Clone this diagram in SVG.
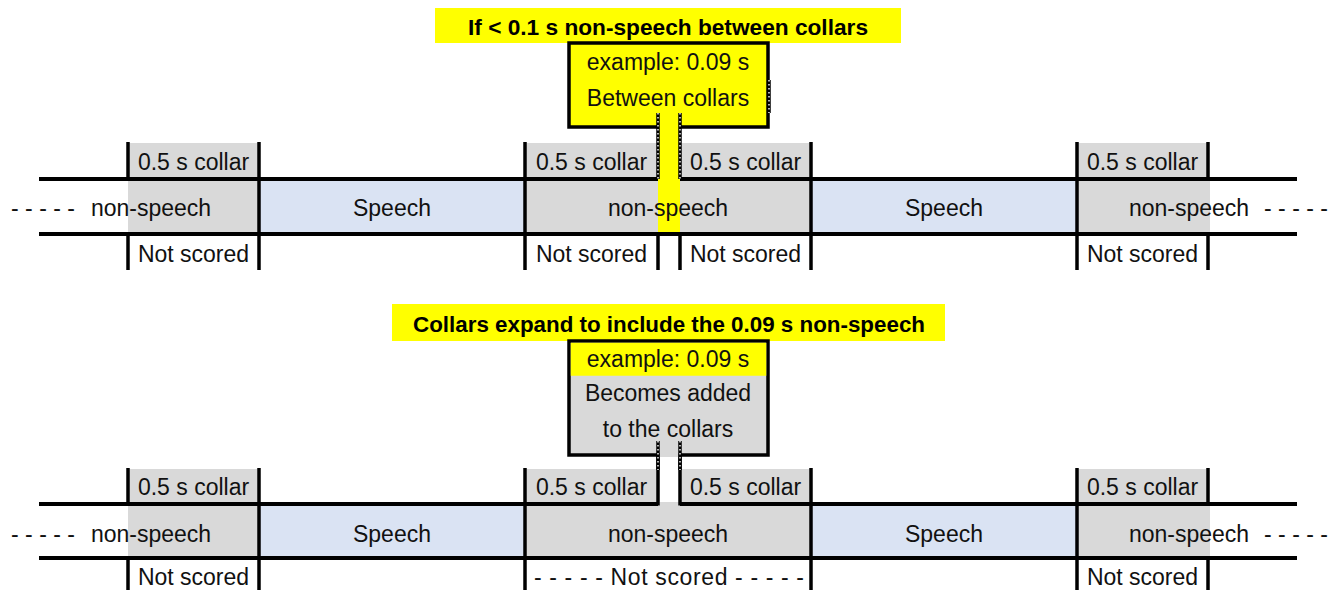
<svg xmlns="http://www.w3.org/2000/svg" width="1342" height="592" viewBox="0 0 1342 592">
<style>
.t{font-family:"Liberation Sans",Arial,sans-serif;font-size:23px;fill:#111;text-anchor:middle}
.tb{font-family:"Liberation Sans",Arial,sans-serif;font-size:22.5px;font-weight:bold;fill:#000;text-anchor:middle}
.g{fill:#d9d9d9}
.b{fill:#dae3f3}
.y{fill:#ffff00}
.ln{stroke:#000;stroke-width:3.5;fill:none}
.hl{stroke:#000;stroke-width:4;fill:none}
.hb{stroke:#000;stroke-width:3.5}
.hw{stroke:#fff;stroke-width:1.4;stroke-dasharray:1.5 2.5}
.box{stroke:#000;stroke-width:3.5}
</style>
<rect width="1342" height="592" fill="#fff"/>

<!-- ================= TOP DIAGRAM ================= -->
<g id="top-fills">
  <rect class="g" x="128" y="143" width="131" height="36"/>
  <rect class="g" x="525" y="143" width="133" height="36"/>
  <rect class="g" x="680" y="143" width="131" height="36"/>
  <rect class="g" x="1077" y="143" width="131" height="36"/>
  <rect class="g" x="128" y="179" width="131" height="55"/>
  <rect class="b" x="259" y="179" width="266" height="55"/>
  <rect class="g" x="525" y="179" width="286" height="55"/>
  <rect class="b" x="811" y="179" width="266" height="55"/>
  <rect class="g" x="1077" y="179" width="133" height="55"/>
</g>
<g id="top-track-lines">
  <line class="hl" x1="39" y1="179" x2="1297" y2="179"/>
  <line class="ln" x1="128" y1="142" x2="128" y2="179"/>
  <line class="ln" x1="128" y1="234" x2="128" y2="270"/>
  <line class="ln" x1="259" y1="142" x2="259" y2="270"/>
  <line class="ln" x1="525" y1="142" x2="525" y2="270"/>
  <line class="ln" x1="811" y1="142" x2="811" y2="270"/>
  <line class="ln" x1="1077" y1="142" x2="1077" y2="270"/>
  <line class="ln" x1="1208" y1="142" x2="1208" y2="179"/>
  <line class="ln" x1="1208" y1="234" x2="1208" y2="270"/>
  <line class="ln" x1="658" y1="234" x2="658" y2="270"/>
  <line class="ln" x1="680" y1="234" x2="680" y2="270"/>
</g>
<g id="top-title">
  <rect class="y" x="435" y="8" width="466" height="35"/>
  <text class="tb" x="668" y="35" textLength="400" lengthAdjust="spacingAndGlyphs">If &lt; 0.1 s non-speech between collars</text>
</g>
<g id="top-callout">
  <rect class="y box" x="569" y="43" width="199" height="84"/>
  <text class="t" x="668" y="70">example: 0.09 s</text>
  <text class="t" x="668" y="106">Between collars</text>
</g>
<g id="top-gap">
  <rect class="y" x="658" y="113" width="22" height="119"/>
</g>
<g id="connectors">
  <line class="hb" x1="658" y1="113" x2="658" y2="179"/>
  <line class="hw" x1="658" y1="113" x2="658" y2="179"/>
  <line class="hb" x1="680" y1="113" x2="680" y2="179"/>
  <line class="hw" x1="680" y1="113" x2="680" y2="179"/>
  <line class="hb" x1="769" y1="80" x2="769" y2="113"/>
  <line class="hw" x1="769" y1="80" x2="769" y2="113"/>
  <line class="hb" x1="658" y1="441" x2="658" y2="470"/>
  <line class="hw" x1="658" y1="441" x2="658" y2="470"/>
  <line class="hb" x1="680" y1="441" x2="680" y2="470"/>
  <line class="hw" x1="680" y1="441" x2="680" y2="470"/>
</g>
<line class="hl" x1="39" y1="234" x2="1297" y2="234"/>
<g id="top-labels">
  <text class="t" x="193.5" y="170">0.5 s collar</text>
  <text class="t" x="591.5" y="170">0.5 s collar</text>
  <text class="t" x="745.5" y="170">0.5 s collar</text>
  <text class="t" x="1142.5" y="170">0.5 s collar</text>
  <text class="t" y="216"><tspan x="43">- - - - -</tspan><tspan x="151">non-speech</tspan></text>
  <text class="t" x="392" y="216">Speech</text>
  <text class="t" x="668" y="216">non-speech</text>
  <text class="t" x="944" y="216">Speech</text>
  <text class="t" y="216"><tspan x="1189">non-speech</tspan><tspan x="1296">- - - - -</tspan></text>
  <text class="t" x="193.5" y="262">Not scored</text>
  <text class="t" x="591.5" y="262">Not scored</text>
  <text class="t" x="745.5" y="262">Not scored</text>
  <text class="t" x="1142.5" y="262">Not scored</text>
</g>

<!-- ================= BOTTOM DIAGRAM ================= -->
<g id="bottom-fills">
  <rect class="g" x="128" y="469" width="131" height="35"/>
  <rect class="g" x="525" y="469" width="133" height="35"/>
  <rect class="g" x="680" y="469" width="131" height="35"/>
  <rect class="g" x="1077" y="469" width="131" height="35"/>
  <rect class="g" x="128" y="504" width="131" height="54"/>
  <rect class="b" x="259" y="504" width="266" height="54"/>
  <rect class="g" x="525" y="504" width="286" height="54"/>
  <rect class="g" x="658" y="502" width="22" height="4"/>
  <rect class="b" x="811" y="504" width="266" height="54"/>
  <rect class="g" x="1077" y="504" width="133" height="54"/>
</g>
<g id="bottom-track-lines">
  <line class="hl" x1="39" y1="504" x2="658" y2="504"/>
  <line class="hl" x1="680" y1="504" x2="1297" y2="504"/>
  <line class="hl" x1="39" y1="558" x2="1297" y2="558"/>
  <line class="ln" x1="128" y1="468" x2="128" y2="504"/>
  <line class="ln" x1="128" y1="558" x2="128" y2="590"/>
  <line class="ln" x1="259" y1="468" x2="259" y2="590"/>
  <line class="ln" x1="525" y1="468" x2="525" y2="590"/>
  <line class="ln" x1="811" y1="468" x2="811" y2="590"/>
  <line class="ln" x1="1077" y1="468" x2="1077" y2="590"/>
  <line class="ln" x1="1208" y1="468" x2="1208" y2="504"/>
  <line class="ln" x1="1208" y1="558" x2="1208" y2="590"/>
  <line class="ln" x1="658" y1="469" x2="658" y2="505.5"/>
  <line class="ln" x1="680" y1="469" x2="680" y2="505.5"/>
</g>
<g id="bottom-title">
  <rect class="y" x="392" y="304" width="553" height="37"/>
  <text class="tb" x="669" y="332" textLength="512" lengthAdjust="spacingAndGlyphs">Collars expand to include the 0.09 s non-speech</text>
</g>
<g id="bottom-callout">
  <rect class="g box" x="569" y="341" width="199" height="114"/>
  <rect class="y" x="570.75" y="342.75" width="195.5" height="33"/>
  <rect class="g" x="659.5" y="452" width="19" height="5"/>
  <text class="t" x="668" y="367">example: 0.09 s</text>
  <text class="t" x="668" y="401">Becomes added</text>
  <text class="t" x="668" y="437">to the collars</text>
</g>
<g id="bottom-hatch">
  <line class="hb" x1="658" y1="441" x2="658" y2="470"/>
  <line class="hw" x1="658" y1="441" x2="658" y2="470"/>
  <line class="hb" x1="680" y1="441" x2="680" y2="470"/>
  <line class="hw" x1="680" y1="441" x2="680" y2="470"/>
</g>
<g id="bottom-labels">
  <text class="t" x="193.5" y="495">0.5 s collar</text>
  <text class="t" x="591.5" y="495">0.5 s collar</text>
  <text class="t" x="745.5" y="495">0.5 s collar</text>
  <text class="t" x="1142.5" y="495">0.5 s collar</text>
  <text class="t" y="542"><tspan x="43">- - - - -</tspan><tspan x="151">non-speech</tspan></text>
  <text class="t" x="392" y="542">Speech</text>
  <text class="t" x="668" y="542">non-speech</text>
  <text class="t" x="944" y="542">Speech</text>
  <text class="t" y="542"><tspan x="1189">non-speech</tspan><tspan x="1296">- - - - -</tspan></text>
  <text class="t" x="193.5" y="585">Not scored</text>
  <text class="t" x="669" y="585" textLength="270">- - - - - Not scored - - - - -</text>
  <text class="t" x="1142.5" y="585">Not scored</text>
</g>
</svg>
